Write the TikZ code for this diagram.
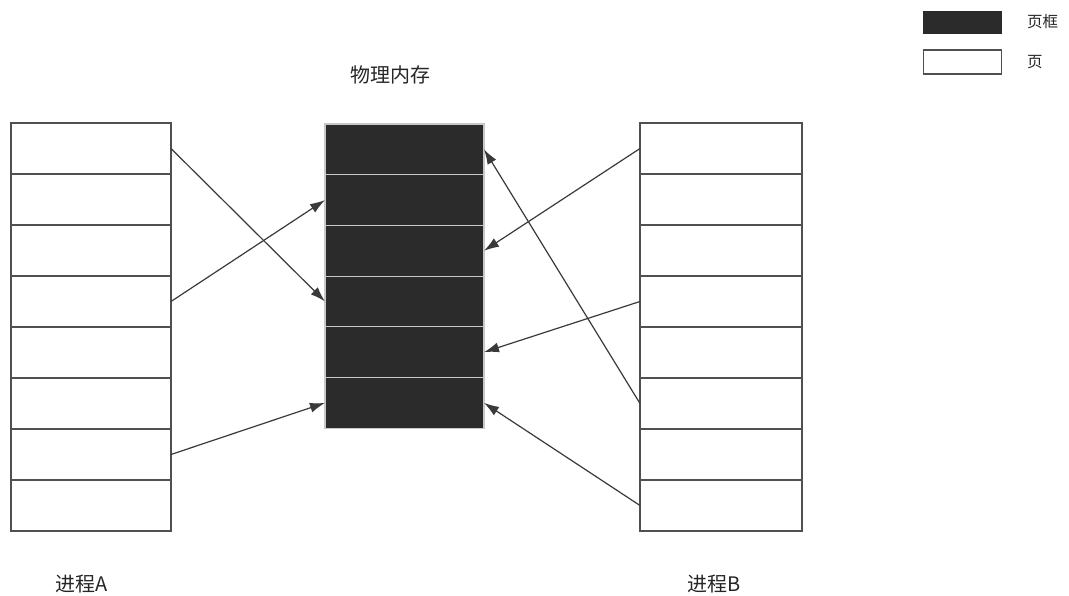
\documentclass[tikz,border=0pt]{standalone}
\usepackage{fontspec}
\newfontfamily\cjk{Noto Sans CJK SC}
\usetikzlibrary{arrows.meta}
\definecolor{linec}{HTML}{505050}
\definecolor{darkfill}{HTML}{2B2B2B}
\definecolor{sepc}{HTML}{C8C8C8}
\definecolor{arrc}{HTML}{3A3A3A}
\tikzset{
  pagerow/.style={draw=linec, fill=white, line width=1.3pt, minimum width=#1, minimum height=51pt, inner sep=0pt, outer sep=0pt},
  framerow/.style={draw=sepc, fill=darkfill, line width=1.1pt, minimum width=159pt, minimum height=50.7pt, inner sep=0pt, outer sep=0pt},
  conn/.style={draw=arrc, line width=1.2pt, -{Latex[length=15pt,width=10pt]}},
  lbl/.style={font=\cjk\fontsize{20}{24}\selectfont, text=black!85, inner sep=0pt},
  legtxt/.style={font=\cjk\fontsize{15.5}{18}\selectfont, text=black!85, inner sep=0pt, anchor=west}
}
\begin{document}
\begin{tikzpicture}[x=1pt,y=-1pt]
\useasboundingbox (0,0) rectangle (1069,596);
\fill[white] (0,0) rectangle (1069,596);
% process A
\foreach \i in {1,...,8}{
  \node[pagerow=160pt] (A\i) at (91,{148.5+51*(\i-1)}) {};
}
% process B
\foreach \i in {1,...,8}{
  \node[pagerow=162pt] (B\i) at (721,{148.5+51*(\i-1)}) {};
}
% physical memory
\foreach \i in {1,...,6}{
  \node[framerow] (M\i) at (404.5,{149.35+50.7*(\i-1)}) {};
}
% labels
\node[lbl] (memlbl) at (390,75) {物理内存};
\node[lbl] (alabel) at (82,584) {进程A};
\node[lbl] (blabel) at (714,584) {进程B};
% arrows
\draw[conn] (A1.east) -- (M4.west);
\draw[conn] (A4.east) -- (M2.west);
\draw[conn] (A7.east) -- (M6.west);
\draw[conn] (B1.west) -- (M3.east);
\draw[conn] (B4.west) -- (M5.east);
\draw[conn] (B6.west) -- (M1.east);
\draw[conn] (B8.west) -- (M6.east);
% legend
\node[draw=darkfill, fill=darkfill, minimum width=78pt, minimum height=21.5pt, inner sep=0pt] (legF) at (962.5,22) {};
\node[draw=linec, fill=white, line width=1.2pt, minimum width=78pt, minimum height=24pt, inner sep=0pt] (legP) at (962.8,62) {};
\node[legtxt] (legFt) at (1027,22) {页框};
\node[legtxt] (legPt) at (1027,62) {页};
\end{tikzpicture}
\end{document}
